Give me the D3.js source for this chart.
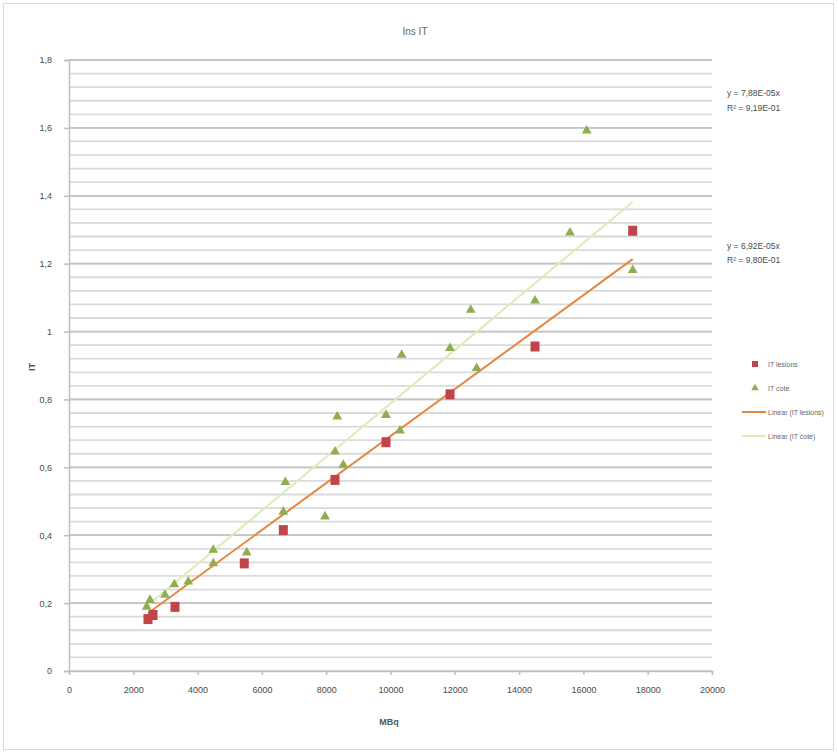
<!DOCTYPE html>
<html><head><meta charset="utf-8">
<script src="https://cdn.jsdelivr.net/npm/d3@7"></script>
<style>html,body{margin:0;padding:0;background:#fff}svg{display:block;font-family:"Liberation Sans",Arial,sans-serif}</style>
</head><body>
<script>
const title = "Ins IT";
const xTitle = "MBq";
const yTitle = "IT";
const xTicks = [0,2000,4000,6000,8000,10000,12000,14000,16000,18000,20000];
const yTicks = [0,0.2,0.4,0.6,0.8,1,1.2,1.4,1.6,1.8];
const yTickLabels = ["0","0,2","0,4","0,6","0,8","1","1,2","1,4","1,6","1,8"];
const lesionX = [2457,2613,3297,5452,6666,8274,9860,11851,14495,17533];
const lesionY = [0.153,0.165,0.189,0.317,0.415,0.563,0.674,0.815,0.956,1.297];
const coteX = [2417,2520,2986,3275,3711,4488,4488,5527,6666,6730,7963,8274,8345,8532,9860,10295,10348,11851,12494,12680,14495,15583,16103,17533];
const coteY = [0.189,0.209,0.224,0.255,0.263,0.357,0.317,0.349,0.469,0.556,0.455,0.646,0.749,0.607,0.754,0.708,0.931,0.951,1.064,0.892,1.091,1.291,1.592,1.181];
const slopes = [6.92e-5, 7.88e-5];
const eqTexts = [["y = 6,92E-05x","R² = 9,80E-01"],["y = 7,88E-05x","R² = 9,19E-01"]];
const legendLabels = ["IT lesions","IT cote","Linear (IT lesions)","Linear (IT cote)"];

const W=838,H=754;
const svg=d3.select("body").append("svg").attr("width",W).attr("height",H);
svg.append("rect").attr("x",3.5).attr("y",3.5).attr("width",W-8).attr("height",H-8).attr("fill","#fff").attr("stroke","#d9d9d9");
const x=d3.scaleLinear().domain([0,20000]).range([69,712]);
const y=d3.scaleLinear().domain([0,1.8]).range([671,60]);

// gridlines
const minor=d3.range(0,1.8001,0.04);
svg.append("g").selectAll("line").data(minor).join("line")
 .attr("x1",x(0)).attr("x2",x(20000)).attr("y1",d=>y(d)).attr("y2",d=>y(d))
 .attr("stroke","#dadada").attr("stroke-width",1.8);
svg.append("g").selectAll("line").data(yTicks.slice(1)).join("line")
 .attr("x1",x(0)).attr("x2",x(20000)).attr("y1",d=>y(d)).attr("y2",d=>y(d))
 .attr("stroke","#c4c4c4").attr("stroke-width",1.8);

// axes
const ax=svg.append("g").attr("transform",`translate(0,${y(0)})`)
 .call(d3.axisBottom(x).tickValues(xTicks).tickSize(4).tickPadding(12).tickFormat(d3.format("d")));
const ay=svg.append("g").attr("transform",`translate(${x(0)},0)`)
 .call(d3.axisLeft(y).tickValues(yTicks).tickSize(5).tickPadding(12).tickFormat((d,i)=>yTickLabels[i]));
[ax,ay].forEach(g=>{g.selectAll("path,line").attr("stroke","#bfbfbf").attr("stroke-width",1.5);
 g.selectAll("text").attr("fill","#4a4a4a").attr("font-size",9);});

// trendlines
const sets=[{xs:lesionX,c:"#e5873f",w:2},{xs:coteX,c:"#dfeab9",w:2}];
sets.forEach((s,i)=>{
 const x0=d3.min(s.xs),x1=d3.max(s.xs);
 svg.append("line").attr("x1",x(x0)).attr("y1",y(slopes[i]*x0)).attr("x2",x(x1)).attr("y2",y(slopes[i]*x1))
  .attr("stroke",s.c).attr("stroke-width",s.w);
});

// points
const tri=d3.symbol().type(d3.symbolTriangle).size(42);
svg.append("g").selectAll("path").data(coteX.map((v,i)=>[v,coteY[i]])).join("path")
 .attr("d",tri).attr("transform",d=>`translate(${x(d[0])},${y(d[1])})`).attr("fill","#8fae4f");
svg.append("g").selectAll("rect").data(lesionX.map((v,i)=>[v,lesionY[i]])).join("rect")
 .attr("x",d=>x(d[0])-4.5).attr("y",d=>y(d[1])-5).attr("width",9).attr("height",10).attr("fill","#c0444a");

// titles
svg.append("text").attr("x",415).attr("y",35).attr("text-anchor","middle").attr("font-size",10).attr("fill","#666").text(title);
svg.append("text").attr("x",389).attr("y",725).attr("text-anchor","middle").attr("font-size",9).attr("font-weight","bold").attr("fill","#555").text(xTitle);
svg.append("text").attr("transform","translate(35,367) rotate(-90)").attr("text-anchor","middle").attr("font-size",9).attr("font-weight","bold").attr("fill","#555").text(yTitle);

// equations
const eqY=[[249,263],[96,111]];
eqTexts.forEach((t,i)=>{t.forEach((s,j)=>{
 svg.append("text").attr("x",727).attr("y",eqY[i][j]).attr("font-size",8.5).attr("fill","#4a4a4a").text(s);});});

// legend
const lg=svg.append("g");
lg.append("rect").attr("x",752).attr("y",361).attr("width",6).attr("height",6).attr("fill","#c0444a");
lg.append("path").attr("d",d3.symbol().type(d3.symbolTriangle).size(24)).attr("transform","translate(755,388)").attr("fill","#8fae4f");
lg.append("line").attr("x1",742).attr("x2",766).attr("y1",412).attr("y2",412).attr("stroke","#e5873f").attr("stroke-width",2);
lg.append("line").attr("x1",742).attr("x2",766).attr("y1",436).attr("y2",436).attr("stroke","#dfeab9").attr("stroke-width",2);
[367,391,415,439].forEach((yy,i)=>lg.append("text").attr("x",768).attr("y",yy).attr("font-size",7).attr("fill","#666").text(legendLabels[i]));
</script>
</body></html>
